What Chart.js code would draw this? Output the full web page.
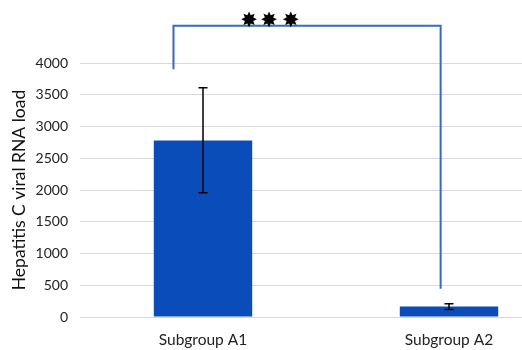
<!DOCTYPE html>
<html>
<head>
<meta charset="utf-8">
<script src="https://cdn.jsdelivr.net/npm/chart.js@4/dist/chart.umd.min.js"></script>
<style>
  html, body { margin: 0; padding: 0; background: #fff; overflow: hidden; }
  #wrap { width: 522px; height: 350px; overflow: hidden; position: relative; }
  canvas { display: block; }
</style>
</head>
<body>
<div id="wrap"><canvas id="c" width="576" height="350"></canvas></div>
<script>
// ---- data ----
const categories = ["Subgroup A1", "Subgroup A2"];
const meanLoad = [2780, 165];
const errLow = [1955, 120];
const errHigh = [3610, 210];
const yTicksMax = 4000;
const yTickStep = 500;
const axisTitle = "Hepatitis C viral RNA load";
// significance bracket (x in category units, y in data units)
const bracketX = [-0.12, 0.966];
const bracketTopY = 4585;
const bracketLeftEndY = 3900;
const bracketRightEndY = 445;
const starsX = [0.187, 0.268, 0.357];
const starsY = 4650;
const starGlyph = "\u2738";

const FONT = "Lato, 'Open Sans', sans-serif";

const overlay = {
  id: 'overlay',
  afterDatasetsDraw(chart) {
    const ctx = chart.ctx;
    const xs = chart.scales.x, ys = chart.scales.y;
    const catW = xs.getPixelForValue(1) - xs.getPixelForValue(0);
    const px = v => xs.getPixelForValue(0) + v * catW;
    ctx.save();
    // error bars
    ctx.strokeStyle = '#000';
    ctx.lineWidth = 1.5;
    for (let i = 0; i < meanLoad.length; i++) {
      const x = xs.getPixelForValue(i);
      const y1 = ys.getPixelForValue(errLow[i]);
      const y2 = ys.getPixelForValue(errHigh[i]);
      ctx.beginPath();
      ctx.moveTo(x, y1); ctx.lineTo(x, y2);
      ctx.moveTo(x - 4.5, y1); ctx.lineTo(x + 4.5, y1);
      ctx.moveTo(x - 4.5, y2); ctx.lineTo(x + 4.5, y2);
      ctx.stroke();
    }
    // bracket
    ctx.strokeStyle = '#2F6CC8';
    ctx.lineWidth = 2;
    ctx.beginPath();
    ctx.moveTo(px(bracketX[0]), ys.getPixelForValue(bracketLeftEndY));
    ctx.lineTo(px(bracketX[0]), ys.getPixelForValue(bracketTopY));
    ctx.lineTo(px(bracketX[1]), ys.getPixelForValue(bracketTopY));
    ctx.lineTo(px(bracketX[1]), ys.getPixelForValue(bracketRightEndY));
    ctx.stroke();
    // stars
    ctx.fillStyle = '#000';
    ctx.font = "21px 'DejaVu Sans'";
    ctx.textAlign = 'center';
    ctx.textBaseline = 'middle';
    for (const s of starsX) {
      ctx.fillText(starGlyph, px(s), ys.getPixelForValue(starsY));
    }
    ctx.restore();
  }
};

new Chart(document.getElementById('c'), {
  type: 'bar',
  data: {
    labels: categories,
    datasets: [{
      data: meanLoad,
      backgroundColor: '#0A4CBA',
      borderWidth: 0,
      categoryPercentage: 1,
      barPercentage: 0.4
    }]
  },
  options: {
    responsive: false,
    animation: false,
    devicePixelRatio: 1,
    layout: { padding: { top: 63, right: 4, left: 9, bottom: 0 } },
    plugins: { legend: { display: false }, tooltip: { enabled: false } },
    scales: {
      x: {
        grid: { display: false, drawTicks: false },
        border: { display: false },
        ticks: { color: '#222', font: { family: FONT, size: 15.5 }, padding: 14 },
        afterFit(s) { s.height = 33; }
      },
      y: {
        min: 0, max: yTicksMax,
        ticks: { stepSize: yTickStep, color: '#222', font: { family: FONT, size: 14 }, padding: 12,
                 callback: v => String(v) },
        grid: { color: '#d9d9d9', lineWidth: 1, drawTicks: false },
        border: { display: false },
        title: { display: true, text: axisTitle, color: '#111', font: { family: FONT, size: 17.5 }, padding: 0 },
        afterFit(s) { s.width = 71; }
      }
    }
  },
  plugins: [overlay]
});
</script>
</body>
</html>
